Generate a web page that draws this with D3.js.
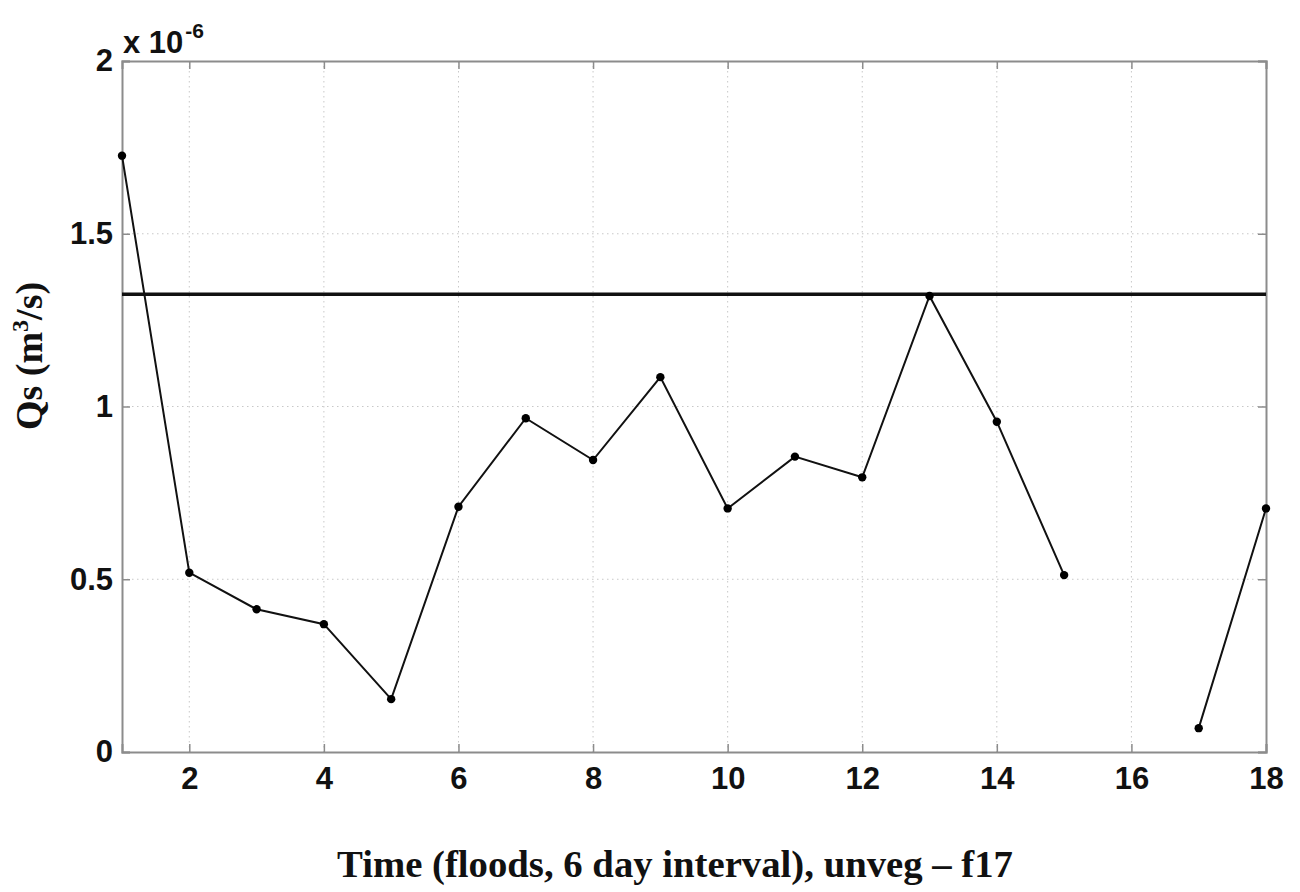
<!DOCTYPE html>
<html>
<head>
<meta charset="utf-8">
<script src="https://cdn.jsdelivr.net/npm/d3@7"></script>
<style>
  body { margin: 0; background: #fff; }
  svg { display: block; }
</style>
</head>
<body>
<svg id="chart" width="1300" height="892"></svg>
<script>
// Sediment discharge per flood event (units of 1e-6 m^3/s); event 16 has no value
const floods = [1, 2, 3, 4, 5, 6, 7, 8, 9, 10, 11, 12, 13, 14, 15, 16, 17, 18];
const qs = [1.726, 0.519, 0.413, 0.370, 0.153, 0.710, 0.966, 0.845, 1.085, 0.705,
            0.855, 0.795, 1.320, 0.956, 0.512, null, 0.069, 0.705];
const reference = 1.325;
const xTicks = [2, 4, 6, 8, 10, 12, 14, 16, 18];
const yTicks = [0, 0.5, 1, 1.5, 2];
const yTickLabels = ["0", "0.5", "1", "1.5", "2"];

const svg = d3.select("#chart");
const plotL = 122, plotR = 1266, plotT = 61, plotB = 752;

const x = d3.scaleLinear().domain([1, 18]).range([plotL, plotR]);
const y = d3.scaleLinear().domain([0, 2]).range([plotB, plotT]);

const axisColor = "#8c8c8c";
const tickFont = "'Liberation Sans', Arial, sans-serif";

// grid
const grid = svg.append("g").attr("stroke", "#c8c8c8").attr("stroke-width", 1)
  .attr("stroke-dasharray", "1.5,3.5");
grid.selectAll("line.gx").data(xTicks.filter(t => t < 18)).join("line")
  .attr("x1", d => x(d)).attr("x2", d => x(d)).attr("y1", plotT).attr("y2", plotB);
grid.selectAll("line.gy").data(yTicks.filter(t => t > 0 && t < 2)).join("line")
  .attr("y1", d => y(d)).attr("y2", d => y(d)).attr("x1", plotL).attr("x2", plotR);

// axes with inward ticks
const xAxis = d3.axisBottom(x).tickValues(xTicks).tickSize(-8).tickPadding(15).tickFormat(d3.format("d"));
const yAxis = d3.axisLeft(y).tickValues(yTicks).tickSize(-8).tickPadding(9)
  .tickFormat((d, i) => yTickLabels[i]);
const xTop = d3.axisTop(x).tickValues(xTicks).tickSize(-8).tickFormat("");
const yRight = d3.axisRight(y).tickValues(yTicks).tickSize(-8).tickFormat("");

function styleAxis(g) {
  g.select(".domain").attr("stroke", axisColor).attr("stroke-width", 2);
  g.selectAll(".tick line").attr("stroke", axisColor).attr("stroke-width", 1.5);
  g.selectAll(".tick text").attr("fill", "#111").attr("font-family", tickFont)
    .attr("font-size", 31).attr("font-weight", "bold");
}
svg.append("g").attr("transform", `translate(0,${plotB})`).call(xAxis).call(styleAxis);
svg.append("g").attr("transform", `translate(${plotL},0)`).call(yAxis).call(styleAxis);
svg.append("g").attr("transform", `translate(0,${plotT})`).call(xTop).call(styleAxis);
svg.append("g").attr("transform", `translate(${plotR},0)`).call(yRight).call(styleAxis);

// exponent note
const expo = svg.append("text").attr("x", plotL + 1).attr("y", 53)
  .attr("font-family", tickFont).attr("font-size", 31).attr("font-weight", "bold").attr("fill", "#111");
expo.append("tspan").text("x 10");
expo.append("tspan").attr("dx", 2).attr("dy", -15).attr("font-size", 21).text("-6");

// reference level
svg.append("line").attr("x1", plotL).attr("x2", plotR)
  .attr("y1", y(reference)).attr("y2", y(reference))
  .attr("stroke", "#111").attr("stroke-width", 3.5);

// series
const pts = floods.map((f, i) => ({ f, v: qs[i] }));
const line = d3.line().defined(d => d.v !== null).x(d => x(d.f)).y(d => y(d.v));
svg.append("path").datum(pts).attr("d", line)
  .attr("fill", "none").attr("stroke", "#111").attr("stroke-width", 2);
svg.append("g").selectAll("circle").data(pts.filter(d => d.v !== null)).join("circle")
  .attr("cx", d => x(d.f)).attr("cy", d => y(d.v)).attr("r", 4.2).attr("fill", "#000");

// axis titles
const serif = "'Liberation Serif', 'Times New Roman', serif";
svg.append("text").attr("x", 675).attr("y", 877).attr("text-anchor", "middle")
  .attr("font-family", serif).attr("font-weight", "bold").attr("font-size", 38).attr("fill", "#111")
  .attr("textLength", 676).attr("lengthAdjust", "spacingAndGlyphs")
  .text("Time (floods, 6 day interval), unveg – f17");
const yl = svg.append("text").attr("transform", "translate(42,356) rotate(-90)")
  .attr("text-anchor", "middle").attr("font-family", serif).attr("font-weight", "bold")
  .attr("font-size", 38).attr("fill", "#111");
yl.append("tspan").text("Qs (m");
yl.append("tspan").attr("dy", -14).attr("font-size", 24).text("3");
yl.append("tspan").attr("dy", 14).text("/s)");
</script>
</body>
</html>
